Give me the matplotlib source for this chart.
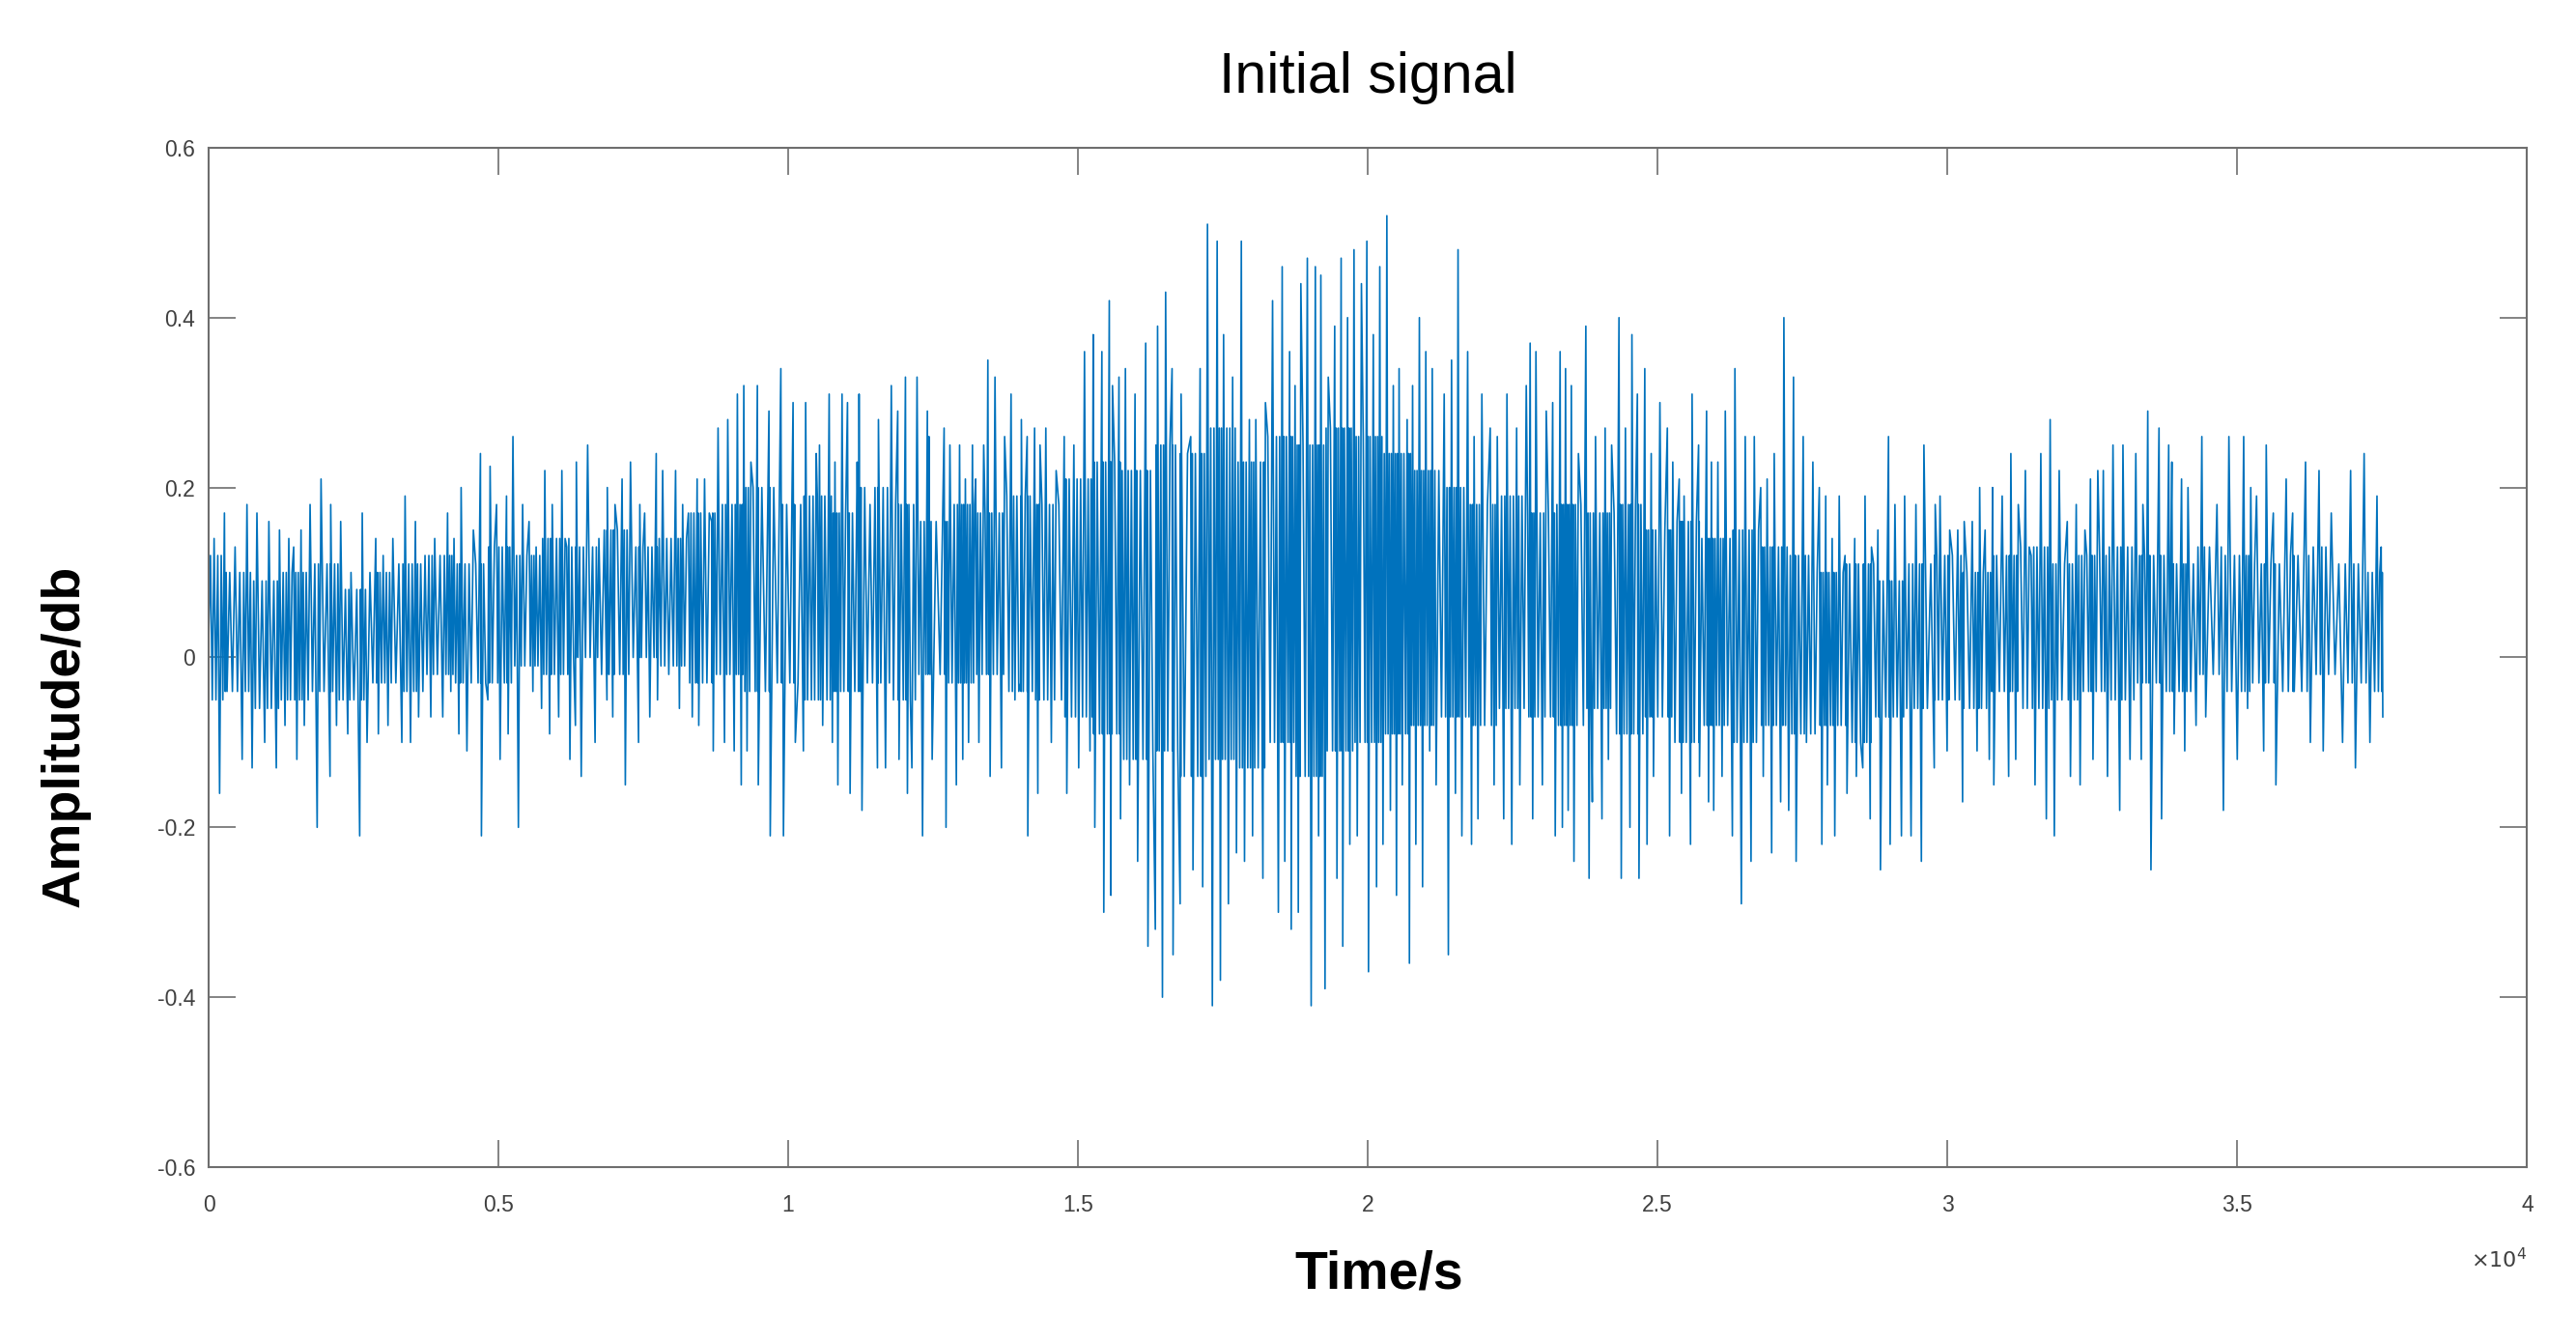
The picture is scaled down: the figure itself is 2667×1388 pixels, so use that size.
"""
Initial signal - time series of amplitude (MATLAB-style figure)
"""

import matplotlib
matplotlib.use("Agg")
import matplotlib.pyplot as plt
import numpy as np
from matplotlib.ticker import FixedLocator, FuncFormatter


# upper spikes (time in s, amplitude in db)
HIGH_T = [94, 272, 456, 661, 833, 1039, 1222, 1383, 1467, 1594, 1750, 1939, 2106, 2278, 2456, 2650, 2883, 3011,
          3178, 3389, 3567, 3733, 3900, 4122, 4233, 4356, 4567, 4689,
          4856, 4967, 5139, 5250, 5417, 5528, 5650, 5800, 5928, 6094, 6178, 6344, 6539, 6733, 6878, 7011, 7133,
          7278, 7439, 7522, 7722, 7833, 8056, 8178, 8278, 8428, 8556, 8678, 8789, 8956, 9122, 9233, 9356, 9467,
          9667, 9872, 10083, 10300, 10483, 10539, 10706, 10806, 10928, 11022, 11189, 11222, 11411, 11556, 11778,
          11889, 12022, 12222, 12400, 12428, 12689, 12789, 12956, 13056, 13178, 13233, 13372, 13444, 13567, 13733,
          13844, 14022, 14122, 14250, 14344,
          14444, 14622, 14761, 14928, 15111, 15261, 15411, 15539, 15594, 15706, 15817, 15983, 16167, 16372, 16511,
          16622, 16778, 16944, 17106, 17233, 17400, 17511, 17667, 17817, 17956, 18067, 18233, 18356, 18522, 18650,
          18744, 18844, 18956, 19094, 19189,
          19317, 19428, 19539, 19650, 19761, 19889, 19983, 20094, 20206, 20328, 20439, 20539, 20678, 20772, 20889,
          21000, 21111, 21317, 21444, 21556, 21722, 21833, 21967, 22111, 22233, 22400, 22567, 22733, 22800, 22900,
          23078, 23189, 23317, 23411, 23511, 23633, 23761, 23928,
          24094, 24206, 24333, 24444, 24556, 24650, 24778, 24889, 25039, 25167, 25261, 25372, 25456, 25594, 25706,
          25844, 25928, 26039, 26167, 26333, 26511, 26667, 26778, 26889, 27011, 27178, 27344, 27511, 27678, 27789,
          27900, 28011, 28133, 28233, 28400, 28578, 28689, 28800,
          28983, 29094, 29261, 29456, 29594, 29789, 29872, 30039, 30178, 30289, 30428, 30556, 30650, 30778, 30944,
          31094, 31222, 31344, 31444, 31611, 31772, 31928, 32067, 32222, 32372, 32467, 32594, 32689, 32856, 33028,
          33250, 33372, 33456, 33650,
          33817, 33872, 34039, 34150, 34389, 34650, 34856, 35111, 35233, 35333, 35500, 35622, 35844, 35956, 36178,
          36411, 36622, 36956, 37189, 37411, 37483]
HIGH_V = [0.14, 0.17, 0.13, 0.18, 0.17, 0.16, 0.15, 0.14, 0.13, 0.15, 0.18, 0.21, 0.18, 0.16, 0.10, 0.17, 0.14, 0.12,
          0.14, 0.19, 0.16, 0.12, 0.14, 0.17, 0.14, 0.20, 0.15, 0.24,
          0.225, 0.18, 0.19, 0.26, 0.18, 0.16, 0.13, 0.22, 0.18, 0.22, 0.13, 0.23, 0.25, 0.14, 0.20, 0.18, 0.21,
          0.23, 0.18, 0.17, 0.24, 0.22, 0.22, 0.18, 0.17, 0.21, 0.21, 0.16, 0.27, 0.28, 0.31, 0.32, 0.23, 0.32,
          0.29, 0.34, 0.30, 0.30, 0.24, 0.25, 0.31, 0.23, 0.31, 0.30, 0.23, 0.31, 0.18, 0.28, 0.32,
          0.29, 0.33, 0.33, 0.29, 0.26, 0.27, 0.25, 0.25, 0.21, 0.25, 0.21, 0.25, 0.35, 0.33, 0.26,
          0.31, 0.28, 0.26, 0.27, 0.25,
          0.27, 0.22, 0.26, 0.25, 0.36, 0.38, 0.36, 0.42, 0.32, 0.33, 0.34, 0.31, 0.37, 0.39, 0.43,
          0.34, 0.31, 0.26, 0.34, 0.51, 0.49, 0.38, 0.33, 0.49, 0.28, 0.28, 0.30, 0.42, 0.46, 0.36,
          0.32, 0.44, 0.47, 0.46, 0.45,
          0.33, 0.39, 0.47, 0.40, 0.48, 0.44, 0.49, 0.38, 0.46, 0.52, 0.32, 0.34, 0.28, 0.32, 0.40,
          0.36, 0.34, 0.31, 0.35, 0.48, 0.36, 0.26, 0.31, 0.27, 0.26, 0.31, 0.27, 0.32, 0.37, 0.36,
          0.29, 0.30, 0.36, 0.34, 0.32, 0.24, 0.39, 0.26,
          0.27, 0.25, 0.40, 0.27, 0.38, 0.31, 0.34, 0.24, 0.30, 0.27, 0.23, 0.21, 0.19, 0.31, 0.25,
          0.29, 0.23, 0.23, 0.29, 0.34, 0.26, 0.26, 0.20, 0.21, 0.24, 0.40, 0.33, 0.26, 0.23, 0.20,
          0.19, 0.14, 0.19, 0.12, 0.14, 0.19, 0.13, 0.15,
          0.26, 0.18, 0.19, 0.18, 0.25, 0.18, 0.19, 0.15, 0.15, 0.16, 0.16, 0.20, 0.15, 0.20, 0.19,
          0.24, 0.18, 0.22, 0.12, 0.24, 0.28, 0.22, 0.16, 0.18, 0.15, 0.21, 0.22, 0.22, 0.25, 0.25,
          0.24, 0.18, 0.29, 0.27,
          0.25, 0.23, 0.21, 0.20, 0.26, 0.18, 0.26, 0.26, 0.20, 0.19, 0.25, 0.17, 0.21, 0.17, 0.23,
          0.22, 0.17, 0.22, 0.24, 0.19, 0.13]

# lower spikes
LOW_T = [0, 189, 317, 578, 750, 967, 1167, 1317, 1522, 1650, 1872, 2094, 2206, 2400, 2606, 2733, 2928, 3094, 3333,
         3483, 3622, 3833, 4039, 4178, 4317, 4456, 4706,
         4817, 5028, 5167, 5344, 5594, 5744, 5883, 6039, 6233, 6328, 6428, 6667, 6872, 6972, 7189, 7417, 7611,
         7744, 7939, 8122, 8344, 8456, 8706, 8900, 9067, 9189, 9289, 9483,
         9689, 9917, 10122, 10261, 10400, 10594, 10761, 10856, 11067, 11272, 11539, 11678, 11911, 12056, 12133,
         12317, 12483, 12722, 12900, 13011, 13111, 13289, 13483, 13678, 13911, 14011, 14133, 14306,
         14539, 14806, 15011, 15206, 15289, 15444, 15567, 15733, 15889, 16028, 16206, 16333, 16456, 16639, 16761,
         16983, 17150, 17317, 17456, 17594, 17733, 17872, 18011, 18189, 18456, 18567, 18678, 18800, 19022, 19150,
         19261, 19467, 19567, 19689, 19817, 20011, 20150, 20261, 20389, 20494, 20594, 20717, 20828, 20944, 21067,
         21178, 21389, 21511, 21622, 21789, 21900, 22178, 22344, 22483, 22622, 22844, 23011, 23233, 23356, 23456,
         23556, 23817, 23872, 24039,
         24150, 24372, 24522, 24678, 24817, 24928, 25206, 25411, 25567, 25722, 25878, 25967, 26111, 26289, 26444,
         26611, 26822, 26967, 27122, 27261, 27389, 27567, 27833, 27928, 28056, 28267, 28428, 28539, 28667, 28844,
         29011, 29206, 29372, 29550, 29772, 29994, 30261, 30511, 30722, 30800, 31056, 31178, 31511, 31706, 31844,
         32122, 32289, 32511, 32761, 32972, 33150, 33344, 33511, 33694,
         33911, 34094, 34289, 34456, 34761, 35000, 35178, 35456, 35667, 35983, 36261, 36483, 36817, 37039, 37289,
         37511]
LOW_V = [0.02, -0.16, -0.04, -0.12, -0.13, -0.10, -0.13, -0.08, -0.12, -0.08, -0.20, -0.14, -0.08, -0.09, -0.21,
         -0.10, -0.09, -0.08, -0.10, -0.10, -0.07, -0.07, -0.07, -0.04, -0.09, -0.11, -0.21,
         -0.05, -0.12, -0.09, -0.20, -0.04, -0.06, -0.09, -0.07, -0.12, -0.08, -0.14, -0.10, -0.05, -0.07, -0.15,
         -0.10, -0.07, -0.05, -0.02, -0.06, -0.07, -0.08, -0.11, -0.10, -0.11, -0.15, -0.11, -0.15,
         -0.21, -0.21, -0.10, -0.11, -0.05, -0.08, -0.10, -0.15, -0.16, -0.18, -0.13, -0.13, -0.12, -0.16, -0.13,
         -0.21, -0.12, -0.20, -0.15, -0.12, -0.10, -0.10, -0.14, -0.13, -0.05, -0.03, -0.21, -0.16,
         -0.10, -0.16, -0.13, -0.11, -0.20, -0.30, -0.28, -0.19, -0.15, -0.24, -0.34, -0.32, -0.40, -0.35, -0.29,
         -0.25, -0.27, -0.41, -0.38, -0.29, -0.23, -0.24, -0.21, -0.26, -0.30, -0.24, -0.32, -0.30, -0.41, -0.21,
         -0.39, -0.26, -0.34, -0.22, -0.21, -0.37, -0.27, -0.22, -0.18, -0.28, -0.15, -0.36, -0.22, -0.27, -0.11,
         -0.15, -0.35, -0.16, -0.21, -0.22, -0.19, -0.15, -0.19, -0.22, -0.15, -0.19, -0.15, -0.21, -0.20, -0.18,
         -0.24, -0.26, -0.17, -0.19,
         -0.12, -0.26, -0.20, -0.26, -0.22, -0.14, -0.21, -0.16, -0.22, -0.14, -0.17, -0.18, -0.14, -0.21, -0.29,
         -0.24, -0.14, -0.23, -0.17, -0.18, -0.24, -0.10, -0.22, -0.15, -0.21, -0.16, -0.14, -0.13, -0.19, -0.25,
         -0.22, -0.21, -0.21, -0.24, -0.13, -0.11, -0.17, -0.11, -0.12, -0.15, -0.14, -0.12, -0.15, -0.19, -0.21,
         -0.14, -0.15, -0.12, -0.14, -0.18, -0.12, -0.12, -0.25, -0.19,
         -0.09, -0.11, -0.08, -0.07, -0.18, -0.12, -0.06, -0.11, -0.15, -0.04, -0.10, -0.11, -0.10, -0.13, -0.10,
         -0.07]

# edges of the dense dark core band, read every 500 s
CORE_T = list(range(0, 38000, 500))
CORE_UP = [0.12, 0.10, 0.09, 0.10, 0.11, 0.08, 0.10, 0.11, 0.12, 0.11, 0.13, 0.12, 0.14, 0.13, 0.15, 0.13,
           0.14, 0.17, 0.18, 0.20, 0.18, 0.19, 0.17, 0.20, 0.18, 0.16, 0.18, 0.17, 0.19, 0.18, 0.21, 0.23,
           0.22, 0.25, 0.24, 0.27, 0.23, 0.26, 0.25, 0.27, 0.26, 0.24, 0.22, 0.20, 0.18, 0.19, 0.17, 0.18,
           0.17, 0.18, 0.15, 0.16, 0.14, 0.15, 0.13, 0.12, 0.10, 0.11, 0.09, 0.11, 0.12, 0.10, 0.12, 0.13,
           0.11, 0.12, 0.13, 0.12, 0.11, 0.13, 0.12, 0.11, 0.12, 0.13, 0.11, 0.10]
CORE_LO = [-0.05, -0.04, -0.06, -0.05, -0.04, -0.05, -0.03, -0.04, -0.02, -0.03, -0.03, -0.01, -0.02, 0.00,
           -0.02, 0.00, -0.01, -0.03, -0.02, -0.04, -0.03, -0.05, -0.04, -0.03, -0.05, -0.02, -0.03, -0.02,
           -0.04, -0.05, -0.07, -0.09, -0.12, -0.11, -0.14, -0.12, -0.13, -0.10, -0.14, -0.11, -0.10, -0.09,
           -0.08, -0.07, -0.08, -0.06, -0.07, -0.08, -0.06, -0.09, -0.07, -0.10, -0.08, -0.10, -0.08, -0.09,
           -0.08, -0.10, -0.07, -0.06, -0.05, -0.06, -0.04, -0.06, -0.05, -0.04, -0.05, -0.03, -0.04, -0.02,
           -0.04, -0.03, -0.04, -0.02, -0.03, -0.04]

X_TICKS = [0, 5000, 10000, 15000, 20000, 25000, 30000, 35000, 40000]
Y_TICKS = [-0.6, -0.4, -0.2, 0, 0.2, 0.4, 0.6]

LINE_COLOR = "#0072BD"
AXIS_COLOR = "#6e6e6e"
TICK_TEXT = "#404040"


def build_trace(n_core=2):
    """Spikes in time order, with small swings inside the core band between them."""
    t = np.concatenate([HIGH_T, LOW_T]).astype(float)
    v = np.concatenate([HIGH_V, LOW_V]).astype(float)
    order = np.argsort(t, kind="stable")
    t, v = t[order], v[order]
    core_t = np.asarray(CORE_T, float)
    up = np.asarray(CORE_UP)
    lo = np.asarray(CORE_LO)

    out_t, out_v = [t[0]], [v[0]]
    for i in range(len(t) - 1):
        going_down = v[i + 1] < v[i]
        ts = np.linspace(t[i], t[i + 1], n_core + 2)[1:-1]
        for k, tk in enumerate(ts):
            j = int(np.argmin(np.abs(core_t - tk)))
            low_turn = (k % 2 == 0) == going_down
            out_t.append(tk)
            out_v.append(lo[j] if low_turn else up[j])
        out_t.append(t[i + 1])
        out_v.append(v[i + 1])
    return np.array(out_t), np.array(out_v)


def main():
    plt.rcParams["font.family"] = ["Liberation Sans", "DejaVu Sans"]

    t, v = build_trace()

    fig = plt.figure(figsize=(26.67, 13.88), dpi=100)
    ax = fig.add_axes([0.081, 0.1297, 0.9, 0.7601])

    ax.plot(t, v, color=LINE_COLOR, linewidth=1.2, antialiased=True)

    ax.set_xlim(0, 40000)
    ax.set_ylim(-0.6, 0.6)
    ax.xaxis.set_major_locator(FixedLocator(X_TICKS))
    ax.yaxis.set_major_locator(FixedLocator(Y_TICKS))
    ax.xaxis.set_major_formatter(FuncFormatter(lambda x, pos: f"{x / 1e4:g}"))
    ax.yaxis.set_major_formatter(FuncFormatter(lambda y, pos: f"{y:g}".replace("\u2212", "-")))

    ax.tick_params(direction="in", length=20, width=1.2, color=AXIS_COLOR,
                   labelsize=16.5, labelcolor=TICK_TEXT, top=True, right=True)
    ax.tick_params(axis="x", pad=20)
    ax.tick_params(axis="y", pad=10)
    for sp in ax.spines.values():
        sp.set_color(AXIS_COLOR)
        sp.set_linewidth(1.5)

    ax.text(1.0, -0.08, r"$\times10^{4}$", transform=ax.transAxes, ha="right", va="top",
            fontsize=16, color=TICK_TEXT)

    ax.set_title("Initial signal", fontsize=42.5, pad=41, color="black")
    ax.set_xlabel("Time/s", fontsize=40, fontweight="bold", labelpad=25)
    ax.set_ylabel("Amplitude/db", fontsize=40, fontweight="bold", labelpad=50)
    ax.xaxis.label.set_x(0.505)
    ax.yaxis.label.set_y(0.4226)

    fig.savefig("out.png", dpi=100)
    plt.close(fig)


if __name__ == "__main__":
    main()
